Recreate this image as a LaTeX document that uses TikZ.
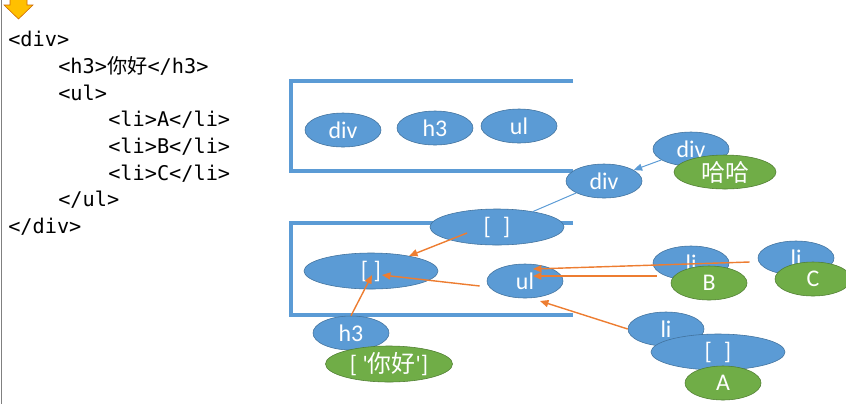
\documentclass[tikz,border=0pt]{standalone}
\usepackage{fontspec}
\setmainfont{Carlito}
\setmonofont{DejaVu Sans Mono}
\newfontfamily\cjk{Noto Sans CJK SC}
\usetikzlibrary{shapes.geometric,arrows.meta}
\definecolor{nodeblue}{HTML}{5B9BD5}
\definecolor{edgeblue}{HTML}{41719C}
\definecolor{nodegreen}{HTML}{70AD47}
\definecolor{edgegreen}{HTML}{507E32}
\definecolor{linkorange}{HTML}{ED7D31}
\definecolor{markgold}{HTML}{FFC000}
\begin{document}
\begin{tikzpicture}[x=0.025cm,y=-0.025cm,
  tagnode/.style={ellipse, draw=edgeblue, fill=nodeblue, text=white, inner sep=0pt,
    minimum width=1.9cm, minimum height=0.85cm, font=\fontsize{17}{20}\selectfont},
  arrnode/.style={tagnode, minimum width=3.35cm, minimum height=0.9cm},
  leafnode/.style={tagnode, draw=edgegreen, fill=nodegreen},
  codeline/.style={anchor=base west, inner sep=0pt, font=\fontsize{14.4}{17}\ttfamily},
  bracketline/.style={nodeblue, line width=3.2pt},
  linkarrow/.style={linkorange, line width=1pt, -{Triangle[length=6pt,width=5pt]}},
  uplink/.style={nodeblue, line width=0.7pt}]
\useasboundingbox (0,0) rectangle (846,404);

\draw[gray, line width=1.4pt] (1.5,0) -- (1.5,404);
\filldraw[fill=markgold, draw=orange!80!black, line width=0.4pt]
  (10,-1) -- (27,-1) -- (27,5) -- (33,5) -- (18.5,19) -- (4,5) -- (10,5) -- cycle;

\node[codeline] (c1) at (8,46) {<div>};
\node[codeline] (c2) at (58,73) {<h3>{\cjk 你好}</h3>};
\node[codeline] (c3) at (58,100) {<ul>};
\node[codeline] (c4) at (108,126.5) {<li>A</li>};
\node[codeline] (c5) at (108,153) {<li>B</li>};
\node[codeline] (c6) at (108,180) {<li>C</li>};
\node[codeline] (c7) at (58,206.5) {</ul>};
\node[codeline] (c8) at (8,233) {</div>};

\draw[bracketline] (573,81) -| (291,171) -- (573,171);
\draw[bracketline] (573,223) -| (291,315) -- (573,315);

\node[tagnode] (divTop) at (343,130) {div};
\node[tagnode] (h3Top) at (435,128) {h3};
\node[tagnode] (ulTop) at (519,126) {ul};

\node[tagnode] (divSrc) at (691,149) {div};
\node[leafnode, minimum width=2.55cm] (haha) at (725,172) {\cjk 哈哈};
\node[tagnode] (divMid) at (604,181) {div};

\node[arrnode] (kids) at (497,227) {[\hspace{0.5em}]};
\node[arrnode] (stack) at (371,271) {[ ]};
\node[tagnode] (ulNode) at (525,281) {ul};
\node[tagnode] (h3Node) at (351,333) {h3};
\node[leafnode, minimum width=3.175cm, minimum height=0.9cm] (nihao) at (389,364)
  {[ \textquotesingle{\cjk 你好}\textquotesingle]};

\node[tagnode] (liB) at (691,263) {li};
\node[leafnode] (textB) at (709,283) {B};
\node[tagnode] (liC) at (796,258) {li};
\node[leafnode] (textC) at (813,279) {C};
\node[tagnode] (liA) at (666,329) {li};
\node[arrnode] (listA) at (718,352) {[\hspace{0.5em}]};
\node[leafnode] (textA) at (723,383) {A};

\draw[uplink, -{Triangle[length=6pt,width=5pt]}] (divSrc) -- (divMid);
\draw[uplink] (kids) -- (divMid);
\draw[linkarrow] ([shift={(-30,6)}]kids.center) -- (stack);
\draw[linkarrow] ([shift={(-7,5)}]ulNode.west) -- ([shift={(11,4)}]stack.center);
\draw[linkarrow] (h3Node.north) -- ([shift={(1,4)}]stack.center);
\draw[linkarrow] ([shift={(-8,4)}]liC.west) -- ([shift={(8,-12)}]ulNode.center);
\draw[linkarrow] ([shift={(4,13)}]liB.west) -- ([shift={(8,-5)}]ulNode.center);
\draw[linkarrow] (liA.west) -- ([shift={(15,20)}]ulNode.center);
\end{tikzpicture}
\end{document}
